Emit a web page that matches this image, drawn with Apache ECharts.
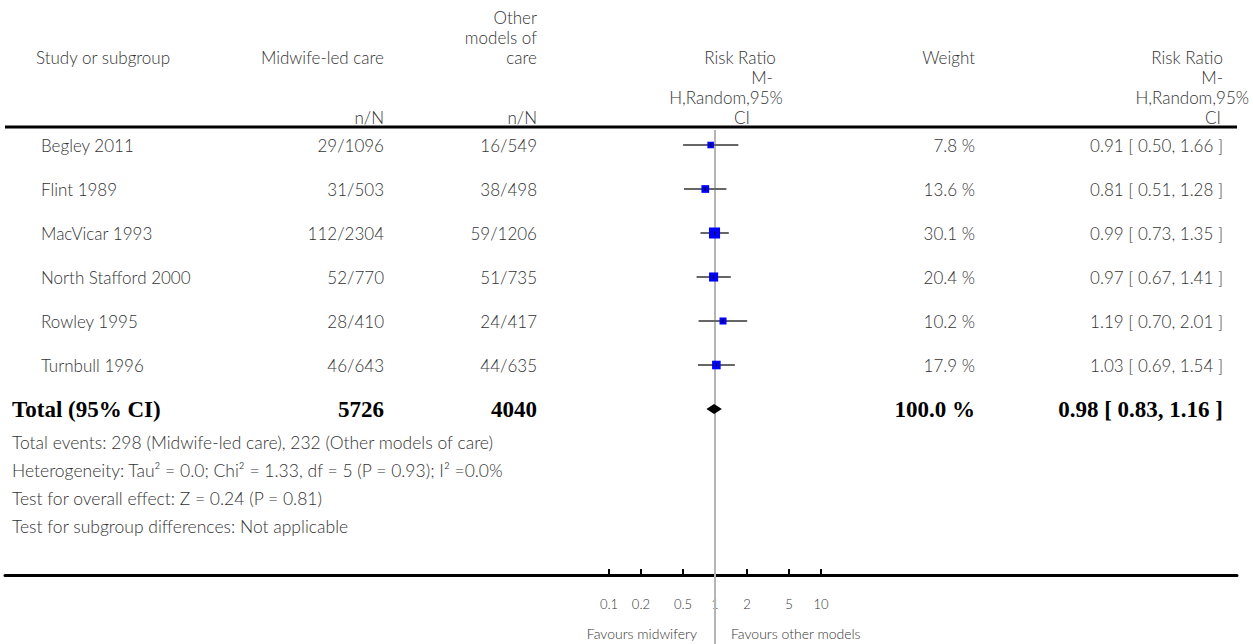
<!DOCTYPE html>
<html><head><meta charset="utf-8">
<script src="https://cdn.jsdelivr.net/npm/echarts@6/dist/echarts.min.js"></script>
<style>html,body{margin:0;padding:0;background:#fff}#c{width:1253px;height:644px}</style>
</head><body><div id="c"></div>
<script>
// ---- data ----
const studies = ['Begley 2011','Flint 1989','MacVicar 1993','North Stafford 2000','Rowley 1995','Turnbull 1996'];
const midwifeEvents = [29,31,112,52,28,46];
const midwifeTotal = [1096,503,2304,770,410,643];
const otherEvents = [16,38,59,51,24,44];
const otherTotal = [549,498,1206,735,417,635];
const weights = [7.8,13.6,30.1,20.4,10.2,17.9];
const rr = [0.91,0.81,0.99,0.97,1.19,1.03];
const rrLow = [0.50,0.51,0.73,0.67,0.70,0.69];
const rrHigh = [1.66,1.28,1.35,1.41,2.01,1.54];
const totalLabel = 'Total (95% CI)';
const totalMidwife = 5726;
const totalOther = 4040;
const totalWeight = 100.0;
const totalRR = 0.98, totalLow = 0.83, totalHigh = 1.16;
const tickValues = [0.1,0.2,0.5,1,2,5,10];
const footnotes = [
  'Total events: 298 (Midwife-led care), 232 (Other models of care)',
  'Heterogeneity: Tau\u00B2 = 0.0; Chi\u00B2 = 1.33, df = 5 (P = 0.93); I\u00B2 =0.0%',
  'Test for overall effect: Z = 0.24 (P = 0.81)',
  'Test for subgroup differences: Not applicable'
];
const favourLeft = 'Favours midwifery';
const favourRight = 'Favours other models';

// ---- layout ----
const W = 1253, H = 644;
const X1 = 715, DECADE = 106, GL = 5, GR = 1237;
const ROW0 = 145, PITCH = 44, GTOP = 130, AXISY = 575;
const FONT = 'Lato, "Open Sans", sans-serif';
const SERIF = '"Liberation Serif", "DejaVu Serif", serif';
const TXT = '#333';
const F17 = '300 17px ' + FONT;
const COL_MW = 384, COL_OT = 537, COL_W = 975, COL_RR = 1223, COL_NAME = 41;

const fmt2 = v => v.toFixed(2);
const ciText = (m,l,h) => fmt2(m) + ' [ ' + fmt2(l) + ', ' + fmt2(h) + ' ]';

const g = [];
function txt(x, y, s, align, font, color){
  g.push({type:'text', x:x, y:y, silent:true,
    style:{text:s, x:0, y:0, textAlign:align||'left', textVerticalAlign:'middle',
      font:font||F17, fill:color||TXT}});
}
// header
txt(36, 57, 'Study or subgroup');
txt(COL_MW, 57, 'Midwife-led care', 'right');
txt(COL_OT, 17, 'Other', 'right');
txt(COL_OT, 37, 'models of', 'right');
txt(COL_OT, 57, 'care', 'right');
txt(COL_MW, 117, 'n/N', 'right');
txt(COL_OT, 117, 'n/N', 'right');
txt(740, 57, 'Risk Ratio', 'center');
txt(762, 77, 'M-', 'center');
txt(726, 97, 'H,Random,95%', 'center');
txt(742, 117, 'CI', 'center');
txt(COL_W, 57, 'Weight', 'right');
txt(COL_RR, 57, 'Risk Ratio', 'right');
txt(COL_RR, 77, 'M-', 'right');
txt(1249, 97, 'H,Random,95%', 'right');
txt(COL_RR-2, 117, 'CI', 'right');
g.push({type:'line', silent:true, shape:{x1:GL, y1:127, x2:GR, y2:127}, style:{stroke:'#000', lineWidth:3}});
// rows
studies.forEach((s,i)=>{
  const y = ROW0 + PITCH*i;
  txt(COL_NAME, y, s);
  txt(COL_MW, y, midwifeEvents[i] + '/' + midwifeTotal[i], 'right');
  txt(COL_OT, y, otherEvents[i] + '/' + otherTotal[i], 'right');
  txt(COL_W, y, weights[i].toFixed(1) + ' %', 'right');
  txt(COL_RR, y, ciText(rr[i], rrLow[i], rrHigh[i]), 'right');
});
const yT = ROW0 + PITCH*studies.length;
const BOLD = 'bold 23px ' + SERIF;
txt(12, yT, totalLabel, 'left', BOLD, '#000');
txt(COL_MW, yT, String(totalMidwife), 'right', BOLD, '#000');
txt(COL_OT, yT, String(totalOther), 'right', BOLD, '#000');
txt(COL_W, yT, totalWeight.toFixed(1) + ' %', 'right', BOLD, '#000');
txt(COL_RR, yT, ciText(totalRR, totalLow, totalHigh), 'right', BOLD, '#000');
footnotes.forEach((f,i)=> txt(12, 442 + 28*i, f, 'left', '300 17.5px ' + FONT));
txt(697, 633, favourLeft, 'right', '300 14px ' + FONT);
txt(731, 633, favourRight, 'left', '300 14px ' + FONT);

const chart = echarts.init(document.getElementById('c'), null, {renderer:'svg', width:W, height:H});
const yMin = (GTOP - ROW0)/PITCH, yMax = (AXISY - ROW0)/PITCH;

chart.setOption({
  animation:false,
  backgroundColor:'#fff',
  grid:{left:GL, width:GR-GL, top:GTOP, height:AXISY-GTOP, containLabel:false},
  xAxis:{type:'log', logBase:10,
    min: Math.pow(10, -(X1-GL)/DECADE), max: Math.pow(10, (GR-X1)/DECADE),
    axisLine:{onZero:false, lineStyle:{color:'#000', width:3}},
    axisTick:{show:true, inside:true, length:6, customValues:tickValues, lineStyle:{color:'#000', width:2}},
    axisLabel:{customValues:tickValues, margin:22, fontSize:13, fontWeight:300, fontFamily:FONT, color:TXT,
      formatter: v => String(+Number(v).toPrecision(3))},
    splitLine:{show:false}, minorTick:{show:false}},
  yAxis:{type:'value', inverse:true, min:yMin, max:yMax, show:false},
  series:[
    {type:'custom', clip:false, silent:true, data:[[1, yMin]],
      renderItem:(p, api)=>{
        const c = api.coord([api.value(0), api.value(1)]);
        return {type:'line', shape:{x1:c[0], y1:c[1], x2:c[0], y2:H}, style:{stroke:'#b5b5b5', lineWidth:2}};
      }},
    {type:'custom', silent:true, encode:{x:0, y:1},
      data: studies.map((s,i)=>[rr[i], i, rrLow[i], rrHigh[i], weights[i]]),
      renderItem:(p, api)=>{
        const yv = api.value(1);
        const c = api.coord([api.value(0), yv]);
        const lo = api.coord([api.value(2), yv]);
        const hi = api.coord([api.value(3), yv]);
        const s = 5 + 0.2*api.value(4);
        return {type:'group', children:[
          {type:'line', shape:{x1:lo[0], y1:c[1], x2:hi[0], y2:c[1]}, style:{stroke:'#666', lineWidth:2}},
          {type:'rect', shape:{x:c[0]-s/2, y:c[1]-s/2, width:s, height:s}, style:{fill:'#0000ff'}},
          {type:'line', shape:{x1:c[0], y1:c[1]-2, x2:c[0], y2:c[1]+2}, style:{stroke:'#000', lineWidth:1}}
        ]};
      }},
    {type:'custom', silent:true, encode:{x:0, y:1},
      data:[[totalRR, studies.length, totalLow, totalHigh]],
      renderItem:(p, api)=>{
        const yv = api.value(1);
        const c = api.coord([api.value(0), yv]);
        const lo = api.coord([api.value(2), yv]);
        const hi = api.coord([api.value(3), yv]);
        return {type:'polygon', shape:{points:[[lo[0],c[1]],[c[0],c[1]-5],[hi[0],c[1]],[c[0],c[1]+5]]}, style:{fill:'#000'}};
      }}
  ],
  graphic:g
});
</script></body></html>
